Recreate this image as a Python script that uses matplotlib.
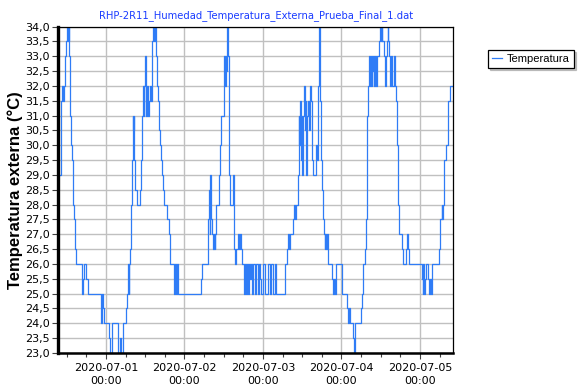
import numpy as np
import pandas as pd
import matplotlib
matplotlib.use('Agg')
import matplotlib.pyplot as plt
import matplotlib.dates as mdates
from matplotlib.ticker import MultipleLocator, FuncFormatter

# Step changes: hours since 2020-06-30 00:00 and temperature (°C)
hours = [10.03, 10.12, 10.33, 10.64, 10.85, 11.04, 11.56, 11.86, 12.17, 12.47,
         12.60, 12.78, 12.99, 13.18, 13.39, 13.70, 13.91, 14.31, 14.61, 14.92,
         16.57, 16.97, 17.27, 17.89, 18.41, 22.47, 22.87, 23.18, 23.48, 25.01,
         25.22, 25.74, 27.58, 27.76, 28.28, 28.59, 29.29, 30.02, 30.33, 30.64,
         30.94, 31.12, 31.43, 31.74, 32.04, 32.16, 32.35, 32.47, 32.65, 32.96,
         33.48, 34.49, 34.70, 35.10, 35.31, 35.53, 35.71, 36.02, 36.14, 36.32,
         36.54, 36.84, 37.15, 37.45, 37.76, 38.16, 38.46, 38.77, 38.98, 39.20,
         39.38, 39.59, 39.81, 40.11, 40.51, 40.91, 41.21, 41.43, 41.64, 42.65,
         43.17, 43.66, 44.88, 45.10, 45.49, 45.71, 46.11, 53.14, 53.44, 55.09,
         55.28, 55.49, 55.71, 55.89, 56.10, 56.41, 56.71, 57.02, 57.23, 57.42,
         57.72, 58.55, 58.95, 59.25, 60.17, 60.47, 60.60, 60.78, 60.90, 61.09,
         61.21, 61.51, 61.82, 62.83, 63.04, 63.23, 63.53, 63.84, 64.36, 64.66,
         64.97, 65.27, 65.58, 66.28, 66.50, 66.80, 67.02, 67.41, 67.63, 68.03,
         68.33, 68.64, 69.10, 69.46, 69.86, 70.47, 70.78, 71.18, 71.39, 72.00,
         72.52, 73.53, 74.05, 74.54, 75.06, 75.58, 75.88, 78.82, 79.34, 79.64,
         79.95, 80.26, 81.17, 81.48, 81.69, 82.18, 82.61, 82.92, 83.10, 83.31,
         83.53, 83.83, 84.02, 84.32, 84.54, 84.84, 85.06, 85.24, 85.54, 85.85,
         86.16, 86.46, 86.77, 87.07, 87.38, 88.30, 88.60, 88.91, 89.21, 89.34,
         89.52, 89.64, 89.95, 90.25, 90.56, 90.86, 91.05, 91.35, 91.57, 91.87,
         93.19, 93.40, 93.71, 94.01, 94.41, 96.06, 97.77, 98.08, 98.29, 98.60,
         99.61, 99.82, 100.22, 101.87, 102.18, 102.67, 103.18, 103.58, 103.89, 104.19,
         104.41, 104.71, 104.93, 105.23, 105.42, 105.63, 105.94, 106.24, 106.64, 106.95,
         107.56, 107.77, 108.08, 108.29, 108.47, 108.99, 109.30, 109.61, 109.82, 110.12,
         110.31, 110.61, 110.83, 111.13, 111.44, 112.14, 112.45, 112.66, 113.06, 113.37,
         113.67, 114.59, 114.89, 115.72, 116.03, 116.24, 116.64, 120.52, 120.83, 121.01,
         121.22, 121.62, 121.93, 122.45, 122.66, 123.06, 123.27, 123.58, 125.90, 126.21,
         126.63, 126.82, 127.12, 127.43, 127.86, 128.65, 129.17, 130.09]

temps = [29.0, 31.0, 31.5, 32.0, 31.5, 32.0, 33.0, 33.5, 34.0, 33.5,
         34.0, 33.0, 31.0, 30.5, 30.0, 29.5, 28.0, 27.5, 26.5, 26.0,
         25.0, 25.5, 26.0, 25.5, 25.0, 24.0, 25.0, 24.5, 24.0, 23.5,
         23.0, 24.0, 23.0, 23.0, 23.5, 23.0, 24.0, 24.5, 25.0, 26.0,
         25.0, 26.0, 26.5, 28.0, 29.5, 31.0, 30.5, 31.0, 29.5, 28.5,
         28.0, 28.5, 29.5, 31.0, 32.0, 31.0, 32.0, 33.0, 32.0, 31.0,
         32.0, 31.0, 31.5, 32.0, 31.5, 33.5, 34.0, 33.5, 34.0, 33.5,
         33.0, 32.0, 31.5, 30.5, 30.0, 29.5, 29.0, 28.5, 28.0, 27.5,
         27.0, 26.0, 25.0, 26.0, 25.0, 26.0, 25.0, 25.5, 26.0, 26.5,
         27.5, 28.5, 27.0, 29.0, 27.5, 27.0, 26.5, 27.0, 26.5, 27.0,
         28.0, 29.0, 30.0, 31.0, 33.0, 32.0, 33.0, 32.5, 33.0, 34.0,
         33.0, 29.0, 28.0, 29.0, 28.0, 26.5, 26.0, 26.5, 27.0, 26.5,
         27.0, 26.5, 26.0, 25.0, 26.0, 25.0, 26.0, 25.0, 26.0, 25.5,
         26.0, 25.0, 26.0, 25.0, 26.0, 25.0, 26.0, 25.5, 25.0, 26.0,
         25.0, 26.0, 25.0, 26.0, 25.0, 26.0, 25.0, 26.0, 26.5, 27.0,
         26.5, 27.0, 27.5, 28.0, 27.5, 28.0, 29.0, 31.0, 30.0, 31.5,
         29.5, 31.0, 29.0, 31.0, 32.0, 30.5, 31.5, 29.0, 31.0, 31.5,
         30.5, 32.0, 31.5, 29.5, 29.0, 30.0, 29.5, 32.0, 34.0, 32.0,
         31.5, 29.5, 28.5, 27.5, 27.0, 26.5, 27.0, 26.5, 27.0, 26.0,
         25.5, 25.0, 25.5, 25.0, 26.0, 25.0, 24.5, 24.0, 24.5, 24.0,
         23.5, 23.0, 24.0, 24.5, 25.0, 26.0, 26.5, 27.5, 31.0, 32.0,
         33.0, 32.0, 33.0, 32.0, 32.5, 33.0, 32.0, 33.0, 32.0, 33.0,
         33.5, 34.0, 33.5, 34.0, 33.5, 33.0, 32.0, 33.0, 33.5, 34.0,
         33.5, 33.0, 32.0, 33.0, 32.0, 33.0, 32.0, 31.5, 30.0, 28.0,
         27.0, 26.5, 26.0, 26.5, 27.0, 26.5, 26.0, 25.5, 25.0, 26.0,
         25.0, 25.5, 26.0, 25.5, 25.0, 25.5, 25.0, 26.0, 26.5, 27.5,
         28.0, 27.5, 28.0, 29.5, 30.0, 31.5, 32.0, 32.0]

title = 'RHP-2R11_Humedad_Temperatura_Externa_Prueba_Final_1.dat'
series_name = 'Temperatura'
y_label = 'Temperatura externa (°C)'

start = pd.Timestamp('2020-06-30 00:00')
times = start + pd.to_timedelta(hours, unit='h')

fig = plt.figure(figsize=(5.86, 3.88), dpi=100)
ax = fig.add_axes([0.0998, 0.0902, 0.6732, 0.8415])

ax.step(times, temps, where='post', color='#2f7cf6', linewidth=0.9, label=series_name)

ax.set_xlim(start + pd.Timedelta(hours=9.48), start + pd.Timedelta(hours=130.1))
ax.set_ylim(23.0, 34.0)

ax.yaxis.set_major_locator(MultipleLocator(0.5))
ax.yaxis.set_major_formatter(FuncFormatter(lambda v, p: f'{v:.1f}'.replace('.', ',')))
ax.xaxis.set_major_locator(mdates.DayLocator())
ax.xaxis.set_major_formatter(mdates.DateFormatter('%Y-%m-%d\n%H:%M'))
ax.xaxis.set_minor_locator(mdates.HourLocator(byhour=[6, 12, 18]))

ax.grid(True, which='major', color='#c0c0c0', linewidth=1.0)
ax.set_axisbelow(True)

ax.tick_params(axis='both', which='major', labelsize=8, length=4, width=0.8, color='#404040')
ax.tick_params(axis='x', which='minor', length=3, width=0.8, color='#404040')
ax.tick_params(axis='x', pad=3)
ax.tick_params(axis='y', pad=2)
for lbl in ax.get_xticklabels():
    lbl.set_linespacing(1.45)

ax.spines['left'].set_linewidth(2.4)
ax.spines['bottom'].set_linewidth(1.8)
ax.spines['top'].set_linewidth(0.9)
ax.spines['right'].set_linewidth(0.9)

ax.set_title(title, color='#1a3cff', fontsize=7.2, pad=6)
ax.set_ylabel(y_label, fontsize=12, fontweight='bold', family='Liberation Sans', labelpad=2)

leg = ax.legend(loc='upper left', bbox_to_anchor=(0.833, 0.871), bbox_transform=fig.transFigure,
                prop={'family': 'Liberation Sans', 'size': 8}, frameon=True, fancybox=False,
                shadow={'color': '#909090', 'ox': 1.5, 'oy': -1.5}, edgecolor='black',
                handlelength=0.9, handletextpad=0.45, borderpad=0.35, borderaxespad=0)
leg.get_frame().set_linewidth(0.9)

fig.savefig('out.png', dpi=100)
